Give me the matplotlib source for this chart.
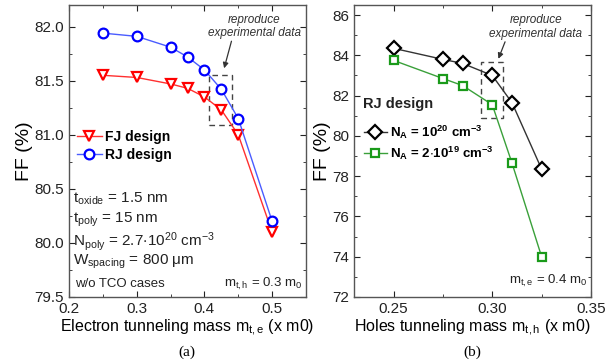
import matplotlib.pyplot as plt
from matplotlib.ticker import MultipleLocator

plt.rcParams['font.family'] = ['Liberation Sans', 'DejaVu Sans']
plt.rcParams['mathtext.fontset'] = 'custom'
plt.rcParams['mathtext.rm'] = 'Liberation Sans'
plt.rcParams['mathtext.it'] = 'Liberation Sans:italic'

# (a) FF vs electron tunneling mass
m_e = [0.25, 0.30, 0.35, 0.375, 0.40, 0.425, 0.45, 0.50]
ff_fj = [81.55, 81.53, 81.47, 81.43, 81.35, 81.23, 81.00, 80.10]
ff_rj = [81.94, 81.91, 81.81, 81.72, 81.60, 81.42, 81.15, 80.20]

# (b) FF vs holes tunneling mass
m_h = [0.25, 0.275, 0.285, 0.30, 0.31, 0.325]
ff_na_hi = [84.35, 83.80, 83.60, 83.00, 81.65, 78.35]
ff_na_lo = [83.75, 82.85, 82.50, 81.55, 78.65, 74.00]

fig = plt.figure(figsize=(6.13, 3.64), dpi=100)
ax1 = fig.add_axes([69/613, 67/364, 237/613, 292/364])
ax2 = fig.add_axes([354/613, 67/364, 237/613, 292/364])

def style_axes(ax):
    ax.tick_params(which='both', direction='in', top=True, right=True,
                   labelsize=11, colors='#222222')
    ax.tick_params(which='major', length=4)
    ax.tick_params(which='minor', length=2)
    for s in ax.spines.values():
        s.set_color('#555555')
        s.set_linewidth(1.0)

# ---- panel (a)
ax1.plot(m_e, ff_fj, color='#ff3030', lw=1.0, marker='v', ms=7, mfc='white',
         mec='red', mew=1.6, label='FJ design')
ax1.plot(m_e, ff_rj, color='#4a5cff', lw=1.0, marker='o', ms=7, mfc='white',
         mec='blue', mew=1.6, label='RJ design')
ax1.set_xlim(0.2, 0.55)
ax1.set_ylim(79.5, 82.2)
ax1.xaxis.set_major_locator(MultipleLocator(0.1))
ax1.xaxis.set_minor_locator(MultipleLocator(0.05))
ax1.yaxis.set_major_locator(MultipleLocator(0.5))
ax1.yaxis.set_minor_locator(MultipleLocator(0.25))
ax1.xaxis.set_major_formatter(lambda v, p: f'{v:.1f}')
ax1.yaxis.set_major_formatter(lambda v, p: f'{v:.1f}')
style_axes(ax1)
ax1.set_ylabel('FF (%)', fontsize=14, labelpad=1)
ax1.set_xlabel(r'Electron tunneling mass m$\mathregular{_{t,e}}$ (x m0)',
               fontsize=11.5, labelpad=1)
ax1.legend(loc='upper left', bbox_to_anchor=(-0.02, 0.615), frameon=False,
           prop={'weight': 'bold', 'size': 10}, handlelength=1.8,
           handletextpad=0.2, labelspacing=0.3)

ax1.add_patch(plt.Rectangle((0.407, 81.09), 0.033, 0.46, fill=False,
                            ls=(0, (4, 3)), lw=1.0, ec='#444444'))
ax1.annotate('', xy=(0.428, 81.59), xytext=(0.441, 81.89),
             arrowprops=dict(arrowstyle='-|>', color='#333333', lw=0.9,
                             mutation_scale=8))
ax1.text(0.4735, 82.0, 'reproduce\nexperimental data', style='italic',
         fontsize=8.5, ha='center', va='center', color='#333333',
         linespacing=1.15)

params = [r'$\mathregular{t_{oxide}}$ = 1.5 nm',
          r'$\mathregular{t_{poly}}$ = 15 nm',
          r'$\mathregular{N_{poly}}$ = 2.7$\mathregular{\cdot10^{20}}$ cm$\mathregular{^{-3}}$',
          r'$\mathregular{W_{spacing}}$ = 800 $\mathregular{\mu}$m']
for i, s in enumerate(params):
    ax1.text(0.015, 0.335 - i * 0.072, s, transform=ax1.transAxes,
             fontsize=11, va='center', color='#222222')
ax1.text(0.025, 0.045, 'w/o TCO cases', transform=ax1.transAxes,
         fontsize=9.5, va='center', color='#222222')
ax1.text(0.985, 0.045, r'm$\mathregular{_{t,h}}$ = 0.3 m$\mathregular{_0}$',
         transform=ax1.transAxes, fontsize=9.5, va='center', ha='right',
         color='#222222')
fig.text(187/613, 1 - 352/364, '(a)', fontsize=11, family='Liberation Serif',
         ha='center', va='center')

# ---- panel (b)
ax2.plot(m_h, ff_na_hi, color='#333333', lw=1.0, marker='D', ms=7,
         mfc='white', mec='black', mew=1.6,
         label=r'N$\mathregular{_A}$ = 10$\mathregular{^{20}}$ cm$\mathregular{^{-3}}$')
ax2.plot(m_h, ff_na_lo, color='#3aa03a', lw=1.0, marker='s', ms=6,
         mfc='white', mec='#1a9a1a', mew=1.6,
         label=r'N$\mathregular{_A}$ = 2$\mathregular{\cdot10^{19}}$ cm$\mathregular{^{-3}}$')
ax2.set_xlim(0.23, 0.35)
ax2.set_ylim(72, 86.5)
ax2.xaxis.set_major_locator(MultipleLocator(0.05))
ax2.xaxis.set_minor_locator(MultipleLocator(0.025))
ax2.yaxis.set_major_locator(MultipleLocator(2))
ax2.yaxis.set_minor_locator(MultipleLocator(1))
ax2.xaxis.set_major_formatter(lambda v, p: f'{v:.2f}')
style_axes(ax2)
ax2.set_ylabel('FF (%)', fontsize=14, labelpad=1)
ax2.set_xlabel(r'Holes tunneling mass m$\mathregular{_{t,h}}$ (x m0)',
               fontsize=11.5, labelpad=1)
ax2.text(0.04, 0.66, 'RJ design', transform=ax2.transAxes, fontsize=10.5,
         weight='bold', va='center', color='#222222')
ax2.legend(loc='upper left', bbox_to_anchor=(-0.01, 0.635), frameon=False,
           prop={'weight': 'bold', 'size': 9.5}, handlelength=1.8,
           handletextpad=0.2, labelspacing=0.3)

ax2.add_patch(plt.Rectangle((0.2944, 80.9), 0.0112, 2.75, fill=False,
                            ls=(0, (4, 3)), lw=1.0, ec='#444444'))
ax2.annotate('', xy=(0.3026, 83.7), xytext=(0.307, 84.8),
             arrowprops=dict(arrowstyle='-|>', color='#333333', lw=0.9,
                             mutation_scale=8))
ax2.text(0.322, 85.4, 'reproduce\nexperimental data', style='italic',
         fontsize=8.5, ha='center', va='center', color='#333333',
         linespacing=1.15)
ax2.text(0.985, 0.055, r'm$\mathregular{_{t,e}}$ = 0.4 m$\mathregular{_0}$',
         transform=ax2.transAxes, fontsize=9.5, va='center', ha='right',
         color='#222222')
fig.text(472/613, 1 - 352/364, '(b)', fontsize=11, family='Liberation Serif',
         ha='center', va='center')

fig.savefig('out.png', dpi=100)
